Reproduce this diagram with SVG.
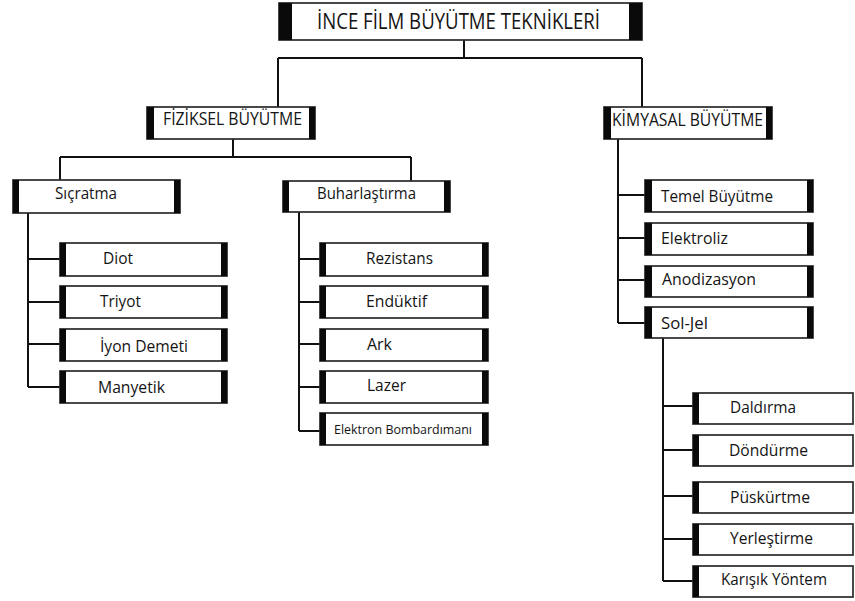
<svg xmlns="http://www.w3.org/2000/svg" width="855" height="601" viewBox="0 0 855 601">
  <style>
    .frame { fill: #ffffff; stroke: #2a2a2a; stroke-width: 1.7; }
    .bar { fill: #0a0a0a; }
    .lbl { font-family: "Open Sans", "Noto Sans", "DejaVu Sans", sans-serif; font-size: 16.5px; fill: #141414; }
    .big { font-size: 17.5px; }
    .title { font-size: 21px; }
    .small { font-size: 13px; }
    .wire { fill: none; stroke: #111111; stroke-width: 2; }
  </style>
  <rect width="855" height="601" fill="#ffffff"/>

  <!-- connectors -->
  <g id="connectors" class="wire">
    <!-- title to the two main branches -->
    <path d="M464 40 V58 M278 58 H642 M278 58 V107 M642 58 V107"/>
    <!-- physical growth branches -->
    <path d="M233 139 V157 M60 157 H411 M60 157 V180 M411 157 V181"/>
    <!-- sputtering methods -->
    <path d="M28 213 V387 M28 259 H60 M28 302 H60 M28 344 H60 M28 387 H60"/>
    <!-- evaporation methods -->
    <path d="M299 212 V431 M299 259 H320 M299 302 H320 M299 344 H320 M299 387 H320 M299 431 H320"/>
    <!-- chemical growth methods -->
    <path d="M618 139 V323 M618 195 H645 M618 238 H645 M618 280 H645 M618 323 H645"/>
    <!-- sol-gel coating methods -->
    <path d="M663 338 V581 M663 406 H693 M663 450 H693 M663 496 H693 M663 539 H693 M663 581 H693"/>
  </g>

  <!-- root -->
  <g id="node-root">
    <rect class="frame" x="279" y="3" width="363" height="37"/>
    <rect class="bar" x="279" y="3" width="13" height="37"/>
    <rect class="bar" x="629" y="3" width="13" height="37"/>
    <text class="lbl title" x="317" y="29" textLength="283" lengthAdjust="spacingAndGlyphs">İNCE FİLM BÜYÜTME TEKNİKLERİ</text>
  </g>

  <!-- main branches -->
  <g id="node-fiziksel">
    <rect class="frame" x="147" y="107" width="168" height="32"/>
    <rect class="bar" x="147" y="107" width="7" height="32"/>
    <rect class="bar" x="309" y="107" width="6" height="32"/>
    <text class="lbl big" x="163" y="125" textLength="139" lengthAdjust="spacingAndGlyphs">FİZİKSEL BÜYÜTME</text>
  </g>
  <g id="node-kimyasal">
    <rect class="frame" x="604" y="107" width="168" height="32"/>
    <rect class="bar" x="604" y="107" width="7" height="32"/>
    <rect class="bar" x="766" y="107" width="6" height="32"/>
    <text class="lbl big" x="612" y="126" textLength="151" lengthAdjust="spacingAndGlyphs">KİMYASAL BÜYÜTME</text>
  </g>

  <!-- physical sub-branches -->
  <g id="node-sicratma">
    <rect class="frame" x="13" y="180" width="167" height="33"/>
    <rect class="bar" x="13" y="180" width="6" height="33"/>
    <rect class="bar" x="174" y="180" width="6" height="33"/>
    <text class="lbl" x="55" y="199" textLength="62" lengthAdjust="spacingAndGlyphs">Sıçratma</text>
  </g>
  <g id="node-buharlastirma">
    <rect class="frame" x="283" y="181" width="167" height="31"/>
    <rect class="bar" x="283" y="181" width="6" height="31"/>
    <rect class="bar" x="444" y="181" width="6" height="31"/>
    <text class="lbl" x="317" y="199" textLength="99" lengthAdjust="spacingAndGlyphs">Buharlaştırma</text>
  </g>

  <!-- sputtering leaves -->
  <g id="node-diot">
    <rect class="frame" x="60" y="243" width="167" height="33"/>
    <rect class="bar" x="60" y="243" width="6" height="33"/>
    <rect class="bar" x="221" y="243" width="6" height="33"/>
    <text class="lbl" x="103" y="264" textLength="30" lengthAdjust="spacingAndGlyphs">Diot</text>
  </g>
  <g id="node-triyot">
    <rect class="frame" x="60" y="286" width="167" height="32"/>
    <rect class="bar" x="60" y="286" width="6" height="32"/>
    <rect class="bar" x="221" y="286" width="6" height="32"/>
    <text class="lbl" x="100" y="307" textLength="41" lengthAdjust="spacingAndGlyphs">Triyot</text>
  </g>
  <g id="node-iyon-demeti">
    <rect class="frame" x="60" y="329" width="167" height="32"/>
    <rect class="bar" x="60" y="329" width="6" height="32"/>
    <rect class="bar" x="221" y="329" width="6" height="32"/>
    <text class="lbl" x="100" y="352" textLength="88" lengthAdjust="spacingAndGlyphs">İyon Demeti</text>
  </g>
  <g id="node-manyetik">
    <rect class="frame" x="60" y="371" width="167" height="32"/>
    <rect class="bar" x="60" y="371" width="6" height="32"/>
    <rect class="bar" x="221" y="371" width="6" height="32"/>
    <text class="lbl" x="98" y="393" textLength="67" lengthAdjust="spacingAndGlyphs">Manyetik</text>
  </g>

  <!-- evaporation leaves -->
  <g id="node-rezistans">
    <rect class="frame" x="320" y="243" width="168" height="33"/>
    <rect class="bar" x="320" y="243" width="6" height="33"/>
    <rect class="bar" x="482" y="243" width="6" height="33"/>
    <text class="lbl" x="366" y="264" textLength="67" lengthAdjust="spacingAndGlyphs">Rezistans</text>
  </g>
  <g id="node-enduktif">
    <rect class="frame" x="320" y="286" width="168" height="32"/>
    <rect class="bar" x="320" y="286" width="6" height="32"/>
    <rect class="bar" x="482" y="286" width="6" height="32"/>
    <text class="lbl" x="366" y="307" textLength="61" lengthAdjust="spacingAndGlyphs">Endüktif</text>
  </g>
  <g id="node-ark">
    <rect class="frame" x="320" y="329" width="168" height="32"/>
    <rect class="bar" x="320" y="329" width="6" height="32"/>
    <rect class="bar" x="482" y="329" width="6" height="32"/>
    <text class="lbl" x="367" y="350" textLength="25" lengthAdjust="spacingAndGlyphs">Ark</text>
  </g>
  <g id="node-lazer">
    <rect class="frame" x="320" y="371" width="168" height="32"/>
    <rect class="bar" x="320" y="371" width="6" height="32"/>
    <rect class="bar" x="482" y="371" width="6" height="32"/>
    <text class="lbl" x="367" y="391" textLength="39" lengthAdjust="spacingAndGlyphs">Lazer</text>
  </g>
  <g id="node-elektron">
    <rect class="frame" x="320" y="413" width="168" height="32"/>
    <rect class="bar" x="320" y="413" width="6" height="32"/>
    <rect class="bar" x="482" y="413" width="6" height="32"/>
    <text class="lbl small" x="334" y="434" textLength="138" lengthAdjust="spacingAndGlyphs">Elektron Bombardımanı</text>
  </g>

  <!-- chemical leaves -->
  <g id="node-temel">
    <rect class="frame" x="645" y="180" width="168" height="32"/>
    <rect class="bar" x="645" y="180" width="7" height="32"/>
    <rect class="bar" x="807" y="180" width="6" height="32"/>
    <text class="lbl" x="661" y="202" textLength="112" lengthAdjust="spacingAndGlyphs">Temel Büyütme</text>
  </g>
  <g id="node-elektroliz">
    <rect class="frame" x="645" y="223" width="168" height="32"/>
    <rect class="bar" x="645" y="223" width="7" height="32"/>
    <rect class="bar" x="807" y="223" width="6" height="32"/>
    <text class="lbl" x="661" y="244" textLength="67" lengthAdjust="spacingAndGlyphs">Elektroliz</text>
  </g>
  <g id="node-anodizasyon">
    <rect class="frame" x="645" y="266" width="168" height="31"/>
    <rect class="bar" x="645" y="266" width="7" height="31"/>
    <rect class="bar" x="807" y="266" width="6" height="31"/>
    <text class="lbl" x="662" y="285" textLength="94" lengthAdjust="spacingAndGlyphs">Anodizasyon</text>
  </g>
  <g id="node-sol-jel">
    <rect class="frame" x="645" y="307" width="168" height="31"/>
    <rect class="bar" x="645" y="307" width="7" height="31"/>
    <rect class="bar" x="807" y="307" width="6" height="31"/>
    <text class="lbl" x="661" y="329" textLength="47" lengthAdjust="spacingAndGlyphs">Sol-Jel</text>
  </g>

  <!-- sol-gel coating leaves -->
  <g id="node-daldirma">
    <rect class="frame" x="693" y="393" width="160" height="31"/>
    <rect class="bar" x="693" y="393" width="6" height="31"/>
    <text class="lbl" x="730" y="413" textLength="66" lengthAdjust="spacingAndGlyphs">Daldırma</text>
  </g>
  <g id="node-dondurme">
    <rect class="frame" x="693" y="435" width="160" height="31"/>
    <rect class="bar" x="693" y="435" width="6" height="31"/>
    <text class="lbl" x="729" y="456" textLength="79" lengthAdjust="spacingAndGlyphs">Döndürme</text>
  </g>
  <g id="node-puskurtme">
    <rect class="frame" x="693" y="482" width="160" height="31"/>
    <rect class="bar" x="693" y="482" width="6" height="31"/>
    <text class="lbl" x="730" y="503" textLength="80" lengthAdjust="spacingAndGlyphs">Püskürtme</text>
  </g>
  <g id="node-yerlestirme">
    <rect class="frame" x="693" y="524" width="160" height="31"/>
    <rect class="bar" x="693" y="524" width="6" height="31"/>
    <text class="lbl" x="730" y="544" textLength="83" lengthAdjust="spacingAndGlyphs">Yerleştirme</text>
  </g>
  <g id="node-karisik">
    <rect class="frame" x="693" y="566" width="160" height="31"/>
    <rect class="bar" x="693" y="566" width="6" height="31"/>
    <text class="lbl" x="721" y="585" textLength="106" lengthAdjust="spacingAndGlyphs">Karışık Yöntem</text>
  </g>
</svg>
